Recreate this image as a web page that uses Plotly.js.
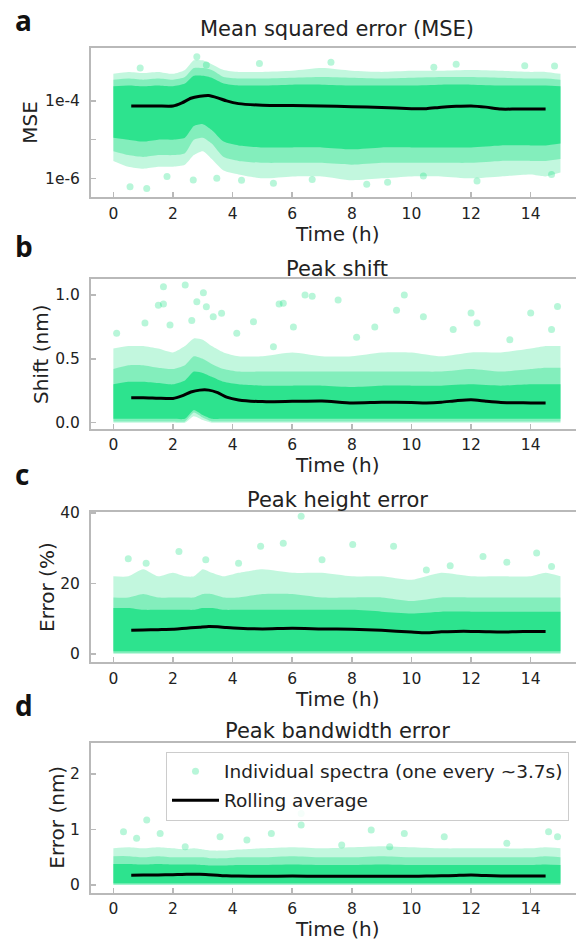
<!DOCTYPE html>
<html>
<head>
<meta charset="utf-8">
<script src="https://cdn.plot.ly/plotly-3.0.1.min.js"></script>
<style>
  html, body { margin: 0; padding: 0; background: #ffffff; overflow: hidden; }
  #chart { width: 576px; height: 940px; }
</style>
</head>
<body>
<div id="chart"></div>
<script>
// ---------------- DATA ----------------
// Time grid of the rolling average (hours)
const tRoll = [0.6, 1, 1.5, 2, 2.3, 2.6, 2.9, 3.2, 3.5, 3.8, 4.2, 5, 6, 7, 8, 9, 10, 10.5, 11, 11.5, 12, 12.5, 13, 13.5, 14, 14.5];
// (a) MSE rolling average, given as log10 of the MSE value
const mseRollLog = [-4.13, -4.13, -4.13, -4.13, -4.05, -3.93, -3.88, -3.86, -3.92, -4.0, -4.07, -4.11, -4.12, -4.13, -4.15, -4.17, -4.2, -4.2, -4.16, -4.14, -4.13, -4.16, -4.21, -4.21, -4.21, -4.21];
// (b) Peak shift rolling average (nm)
const shiftRoll = [0.195, 0.196, 0.192, 0.19, 0.21, 0.24, 0.255, 0.255, 0.235, 0.2, 0.178, 0.165, 0.167, 0.17, 0.155, 0.16, 0.158, 0.155, 0.16, 0.172, 0.18, 0.168, 0.158, 0.156, 0.155, 0.155];
// (c) Peak height error rolling average (%)
const heightRoll = [6.7, 6.8, 6.9, 7.0, 7.2, 7.4, 7.6, 7.8, 7.7, 7.5, 7.3, 7.1, 7.3, 7.1, 7.0, 6.7, 6.2, 6.0, 6.3, 6.4, 6.4, 6.3, 6.2, 6.3, 6.4, 6.4];
// (d) Peak bandwidth error rolling average (nm)
const bwRoll = [0.175, 0.178, 0.182, 0.186, 0.19, 0.193, 0.192, 0.185, 0.175, 0.165, 0.16, 0.158, 0.16, 0.158, 0.156, 0.157, 0.158, 0.16, 0.165, 0.172, 0.178, 0.17, 0.163, 0.162, 0.163, 0.163];

// Time grid for the extent of the cloud of individual spectra (hours)
const tEnv = [0, 0.5, 1, 1.5, 2, 2.4, 2.7, 3.0, 3.3, 3.7, 4.2, 5, 6, 7, 8, 9, 10, 11, 12, 13, 14, 14.5, 15];
// (a) cloud extent, log10 of MSE: sparse (outer), medium, dense (core)
const mseOuterHi = [-3.3, -3.25, -3.28, -3.25, -3.3, -3.2, -2.95, -2.95, -3.05, -3.2, -3.25, -3.25, -3.22, -3.15, -3.22, -3.25, -3.22, -3.22, -3.2, -3.22, -3.25, -3.25, -3.3];
const mseOuterLo = [-5.55, -5.7, -5.75, -5.7, -5.7, -5.65, -5.4, -5.3, -5.5, -5.8, -5.9, -6.0, -5.95, -5.95, -6.05, -6.0, -5.95, -5.95, -6.0, -5.95, -5.9, -5.95, -5.85];
const mseMidHi = [-3.45, -3.42, -3.45, -3.42, -3.45, -3.38, -3.15, -3.15, -3.2, -3.38, -3.42, -3.42, -3.4, -3.38, -3.4, -3.42, -3.4, -3.38, -3.38, -3.4, -3.42, -3.42, -3.45];
const mseMidLo = [-5.3, -5.4, -5.45, -5.4, -5.4, -5.35, -5.0, -4.95, -5.1, -5.45, -5.55, -5.6, -5.6, -5.6, -5.65, -5.6, -5.6, -5.6, -5.6, -5.55, -5.55, -5.55, -5.5];
const mseCoreHi = [-3.62, -3.6, -3.62, -3.6, -3.62, -3.55, -3.35, -3.35, -3.4, -3.55, -3.6, -3.6, -3.58, -3.58, -3.6, -3.6, -3.6, -3.58, -3.58, -3.6, -3.6, -3.6, -3.62];
const mseCoreLo = [-4.95, -5.0, -5.05, -5.0, -5.0, -4.95, -4.65, -4.6, -4.75, -5.05, -5.15, -5.2, -5.2, -5.2, -5.25, -5.2, -5.2, -5.2, -5.2, -5.15, -5.15, -5.15, -5.1];
// (b) cloud extent, shift (nm)
const shiftOuterHi = [0.58, 0.6, 0.6, 0.58, 0.55, 0.6, 0.66, 0.65, 0.6, 0.55, 0.52, 0.52, 0.55, 0.52, 0.52, 0.55, 0.55, 0.52, 0.55, 0.55, 0.58, 0.6, 0.6];
const shiftOuterLo = [0, 0, 0, 0, 0, 0, 0.05, 0.02, 0, 0, 0, 0, 0, 0, 0, 0, 0, 0, 0, 0, 0, 0, 0];
const shiftMidHi = [0.42, 0.45, 0.45, 0.43, 0.42, 0.45, 0.52, 0.5, 0.46, 0.42, 0.4, 0.4, 0.4, 0.4, 0.4, 0.4, 0.4, 0.4, 0.42, 0.4, 0.42, 0.43, 0.43];
const shiftMidLo = [0.01, 0.01, 0.01, 0.01, 0.01, 0.01, 0.08, 0.04, 0.01, 0.01, 0.01, 0.01, 0.01, 0.01, 0.01, 0.01, 0.01, 0.01, 0.01, 0.01, 0.01, 0.01, 0.01];
const shiftCoreHi = [0.3, 0.32, 0.32, 0.31, 0.3, 0.33, 0.4, 0.39, 0.36, 0.32, 0.3, 0.29, 0.29, 0.29, 0.28, 0.29, 0.29, 0.29, 0.3, 0.29, 0.3, 0.3, 0.3];
const shiftCoreLo = [0.03, 0.03, 0.03, 0.03, 0.03, 0.03, 0.1, 0.06, 0.03, 0.03, 0.03, 0.03, 0.03, 0.03, 0.03, 0.03, 0.03, 0.03, 0.03, 0.03, 0.03, 0.03, 0.03];
// (c) cloud extent, height error (%)
const heightOuterHi = [22, 22, 24, 22, 23, 22, 22, 24, 23, 22, 23, 24, 23, 23, 22, 22, 21, 23, 22, 22, 22, 23, 22];
const heightOuterLo = [0, 0, 0, 0, 0, 0, 0, 0, 0, 0, 0, 0, 0, 0, 0, 0, 0, 0, 0, 0, 0, 0, 0];
const heightMidHi = [16, 16, 17, 16, 16, 16, 16, 17, 17, 16, 16, 17, 17, 16, 16, 16, 15, 16, 16, 16, 16, 16, 16];
const heightMidLo = [0.3, 0.3, 0.3, 0.3, 0.3, 0.3, 0.3, 0.3, 0.3, 0.3, 0.3, 0.3, 0.3, 0.3, 0.3, 0.3, 0.3, 0.3, 0.3, 0.3, 0.3, 0.3, 0.3];
const heightCoreHi = [13, 13, 12.5, 12.5, 12.5, 12.5, 12.5, 13, 13, 12.5, 12.5, 12.5, 12.5, 12.5, 12.5, 12, 11.5, 12, 12, 12, 12, 12, 12];
const heightCoreLo = [0.8, 0.8, 0.8, 0.8, 0.8, 0.8, 0.8, 0.8, 0.8, 0.8, 0.8, 0.8, 0.8, 0.8, 0.8, 0.8, 0.8, 0.8, 0.8, 0.8, 0.8, 0.8, 0.8];
// (d) cloud extent, bandwidth error (nm)
const bwOuterHi = [0.66, 0.68, 0.66, 0.68, 0.66, 0.64, 0.66, 0.64, 0.62, 0.62, 0.64, 0.66, 0.68, 0.66, 0.68, 0.7, 0.68, 0.66, 0.66, 0.66, 0.66, 0.68, 0.66];
const bwOuterLo = [0, 0, 0, 0, 0, 0, 0, 0, 0, 0, 0, 0, 0, 0, 0, 0, 0, 0, 0, 0, 0, 0, 0];
const bwMidHi = [0.52, 0.52, 0.5, 0.52, 0.5, 0.5, 0.5, 0.5, 0.48, 0.48, 0.5, 0.5, 0.52, 0.5, 0.5, 0.52, 0.5, 0.5, 0.5, 0.5, 0.5, 0.52, 0.5];
const bwMidLo = [0.01, 0.01, 0.01, 0.01, 0.01, 0.01, 0.01, 0.01, 0.01, 0.01, 0.01, 0.01, 0.01, 0.01, 0.01, 0.01, 0.01, 0.01, 0.01, 0.01, 0.01, 0.01, 0.01];
const bwCoreHi = [0.38, 0.38, 0.37, 0.38, 0.37, 0.37, 0.37, 0.36, 0.35, 0.35, 0.36, 0.36, 0.37, 0.36, 0.36, 0.37, 0.36, 0.36, 0.36, 0.36, 0.36, 0.37, 0.36];
const bwCoreLo = [0.03, 0.03, 0.03, 0.03, 0.03, 0.03, 0.03, 0.03, 0.03, 0.03, 0.03, 0.03, 0.03, 0.03, 0.03, 0.03, 0.03, 0.03, 0.03, 0.03, 0.03, 0.03, 0.03];

// Isolated individual spectra (outliers) visible outside the dense cloud
const mseOutT = [0.56, 1.12, 2.68, 3.47, 5.37, 6.67, 8.5, 10.4, 12.2, 14.7, 2.8, 3.12, 0.9, 4.9, 7.3, 10.75, 13.8, 14.8, 1.8, 9.2, 11.5, 4.3];
const mseOutLog = [-6.22, -6.26, -6.04, -6.0, -6.13, -6.03, -6.15, -5.94, -6.07, -5.9, -2.86, -3.07, -3.15, -3.03, -3.0, -3.13, -3.09, -3.1, -5.95, -6.1, -3.05, -6.05];
const shiftOutT = [1.68, 2.41, 3.02, 1.51, 1.68, 2.8, 3.12, 0.11, 1.06, 1.9, 2.63, 3.35, 3.63, 4.14, 4.7, 5.37, 5.7, 6.04, 6.43, 6.67, 7.54, 9.5, 9.76, 10.4, 12.0, 12.2, 14.0, 14.9, 14.7, 11.4, 8.16, 8.77, 5.56, 13.3];
const shiftOutV = [1.065, 1.078, 1.018, 0.92, 0.93, 0.947, 0.908, 0.70, 0.78, 0.765, 0.80, 0.83, 0.857, 0.70, 0.79, 0.595, 0.935, 0.75, 1.0, 0.99, 0.96, 0.88, 1.0, 0.83, 0.86, 0.78, 0.86, 0.91, 0.73, 0.73, 0.67, 0.75, 0.93, 0.65];
const heightOutT = [6.3, 8.03, 4.94, 2.2, 3.1, 5.7, 7.0, 9.4, 12.4, 14.2, 14.7, 1.1, 4.2, 10.5, 0.5, 13.2, 11.3];
const heightOutV = [39, 31, 30.5, 29, 26.7, 31.4, 26.7, 30.5, 27.6, 28.6, 24.8, 25.7, 25.7, 23.8, 27, 26, 25];
const bwOutT = [1.12, 0.34, 1.57, 0.78, 2.41, 3.58, 4.48, 6.3, 6.3, 5.3, 8.65, 9.76, 11.1, 14.6, 14.9, 13.2, 9.27, 7.66];
const bwOutV = [1.17, 0.96, 0.93, 0.84, 0.69, 0.87, 0.81, 1.29, 1.08, 0.93, 0.99, 0.93, 0.87, 0.96, 0.87, 0.75, 0.69, 0.72];

// Labels
const panelLetters = ['a', 'b', 'c', 'd'];
const panelTitles = ['Mean squared error (MSE)', 'Peak shift', 'Peak height error', 'Peak bandwidth error'];
const yTitles = ['MSE', 'Shift (nm)', 'Error (%)', 'Error (nm)'];
const xTitle = 'Time (h)';
const xTicks = [0, 2, 4, 6, 8, 10, 12, 14];
const mseTickVals = [1e-6, 1e-5, 1e-4];
const mseTickText = ['1e-6', '', '1e-4'];
const legendNames = ['Individual spectra (one every ~3.7s)', 'Rolling average'];

// ---------------- BUILD ----------------
const pow10 = a => a.map(v => Math.pow(10, v));
const FONT = 'DejaVu Sans, Liberation Sans, sans-serif';
const G = '0,222,118';

function band(lo, hi, alpha, xa, ya) {
  const common = {x: tEnv, xaxis: xa, yaxis: ya, mode: 'lines', hoverinfo: 'skip', showlegend: false,
                  line: {width: 0, shape: 'spline', smoothing: 0.6, color: 'rgba(' + G + ',0)'}};
  return [Object.assign({}, common, {y: lo}),
          Object.assign({}, common, {y: hi, fill: 'tonexty', fillcolor: 'rgba(' + G + ',' + alpha + ')'})];
}
function cloud(lays, xa, ya) {
  return [].concat(band(lays[0], lays[1], 0.24, xa, ya),
                   band(lays[2], lays[3], 0.32, xa, ya),
                   band(lays[4], lays[5], 0.66, xa, ya));
}
function outl(t, v, xa, ya, legend) {
  return {x: t, y: v, xaxis: xa, yaxis: ya, mode: 'markers', name: legendNames[0],
          marker: {size: 7, color: 'rgba(' + G + ',0.28)', line: {width: 0}},
          showlegend: !!legend, legendgroup: 'pts', hoverinfo: 'skip'};
}
function roll(y, xa, ya, legend) {
  return {x: tRoll, y: y, xaxis: xa, yaxis: ya, mode: 'lines', name: legendNames[1],
          line: {color: '#000000', width: 3, shape: 'spline', smoothing: 0.6},
          showlegend: !!legend, legendgroup: 'roll'};
}

const traces = [].concat(
  cloud([pow10(mseOuterLo), pow10(mseOuterHi), pow10(mseMidLo), pow10(mseMidHi), pow10(mseCoreLo), pow10(mseCoreHi)], 'x', 'y'),
  [outl(mseOutT, pow10(mseOutLog), 'x', 'y', false), roll(pow10(mseRollLog), 'x', 'y', false)],
  cloud([shiftOuterLo, shiftOuterHi, shiftMidLo, shiftMidHi, shiftCoreLo, shiftCoreHi], 'x2', 'y2'),
  [outl(shiftOutT, shiftOutV, 'x2', 'y2', false), roll(shiftRoll, 'x2', 'y2', false)],
  cloud([heightOuterLo, heightOuterHi, heightMidLo, heightMidHi, heightCoreLo, heightCoreHi], 'x3', 'y3'),
  [outl(heightOutT, heightOutV, 'x3', 'y3', false), roll(heightRoll, 'x3', 'y3', false)],
  cloud([bwOuterLo, bwOuterHi, bwMidLo, bwMidHi, bwCoreLo, bwCoreHi], 'x4', 'y4'),
  [outl(bwOutT, bwOutV, 'x4', 'y4', true), roll(bwRoll, 'x4', 'y4', true)]
);

// pixel geometry (plot height 910 px: top margin 0, bottom margin 30)
const PH = 910, L = 91, PW = 485;
const py = v => 1 - v / PH;          // pixel row -> paper y
const px = v => (v - L) / PW;        // pixel column -> paper x
const frames = [[48.3, 197.3], [279.3, 428.8], [511.7, 662.3], [742.7, 892.7]];
const yRanges = [[-6.49, -2.64], [-0.048, 1.123], [-2.35, 40.3], [-0.139, 2.564]];
const yTitleX = [30, 41, 47, 57];
const LINEC = '#b9b9b9';

const layout = {
  width: 576, height: 940,
  margin: {l: L, r: 0, t: 0, b: 30, pad: 0},
  paper_bgcolor: '#ffffff', plot_bgcolor: '#ffffff',
  font: {family: FONT, color: '#222222'},
  showlegend: true,
  legend: {x: px(166), y: py(751.7), xanchor: 'left', yanchor: 'top', itemwidth: 47,
           bgcolor: 'rgba(255,255,255,0.85)', bordercolor: '#cccccc', borderwidth: 1,
           font: {family: FONT, size: 18.5, color: '#222222'}, tracegroupgap: 2},
  annotations: []
};

for (let i = 0; i < 4; i++) {
  const s = i === 0 ? '' : String(i + 1);
  layout['xaxis' + s] = {
    anchor: 'y' + s, domain: [0, 1], range: [-0.75, 15.52],
    tickvals: xTicks, ticks: 'inside', ticklen: 5, tickwidth: 1.5, tickcolor: LINEC,
    showline: true, linecolor: LINEC, linewidth: 2, mirror: true,
    showgrid: false, zeroline: false, ticklabelstandoff: 1,
    tickfont: {family: FONT, size: 15.5, color: '#222222'}
  };
  const ya = {
    anchor: 'x' + s, domain: [py(frames[i][1]), py(frames[i][0])],
    ticks: 'inside', ticklen: 5, tickwidth: 1.5, tickcolor: LINEC,
    showline: true, linecolor: LINEC, linewidth: 2, mirror: false,
    showgrid: false, zeroline: false, ticklabelstandoff: 6,
    tickfont: {family: FONT, size: 15.5, color: '#222222'},
    range: yRanges[i]
  };
  if (i === 0) { ya.type = 'log'; ya.tickvals = mseTickVals; ya.ticktext = mseTickText; }
  if (i === 1) { ya.tickvals = [0, 0.5, 1]; ya.ticktext = ['0.0', '0.5', '1.0']; }
  if (i === 2) { ya.tickvals = [0, 20, 40]; }
  if (i === 3) { ya.tickvals = [0, 1, 2]; }
  layout['yaxis' + s] = ya;

  // x axis title
  layout.annotations.push({
    text: xTitle, xref: 'paper', yref: 'paper', x: px(337), y: py(frames[i][1] + 36.5),
    xanchor: 'center', yanchor: 'middle', showarrow: false,
    font: {family: FONT, size: 20, color: '#222222'}
  });
  // y axis title
  layout.annotations.push({
    text: yTitles[i], xref: 'paper', yref: 'paper', x: px(yTitleX[i]),
    y: py((frames[i][0] + frames[i][1]) / 2), textangle: -90,
    xanchor: 'center', yanchor: 'middle', showarrow: false,
    font: {family: FONT, size: 20, color: '#222222'}
  });
}

const titleY = [29, 269, 500, 731];
const letterY = [19.5, 246.5, 473.5, 704.5];
for (let i = 0; i < 4; i++) {
  layout.annotations.push({
    text: panelTitles[i], xref: 'paper', yref: 'paper', x: px(337), y: py(titleY[i]),
    xanchor: 'center', yanchor: 'middle', showarrow: false,
    font: {family: FONT, size: 21, color: '#222222'}
  });
  layout.annotations.push({
    text: panelLetters[i], xref: 'paper', yref: 'paper', x: px(13), y: py(letterY[i]),
    xanchor: 'left', yanchor: 'middle', showarrow: false,
    font: {family: 'Open Sans, Liberation Sans, sans-serif', size: 28, weight: 700, color: '#111111'}
  });
}

Plotly.newPlot('chart', traces, layout, {displayModeBar: false, staticPlot: true});
</script>
</body>
</html>
